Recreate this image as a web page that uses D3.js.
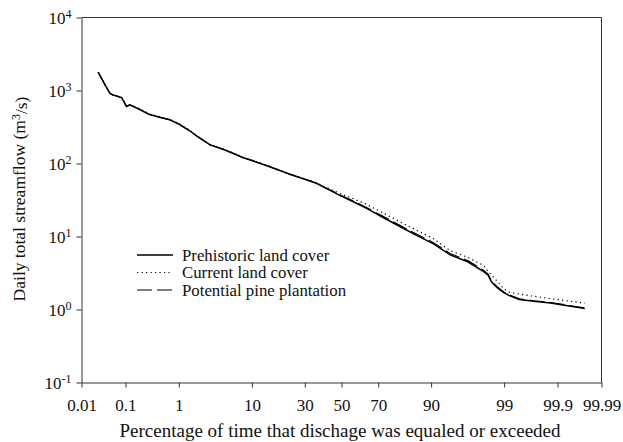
<!DOCTYPE html>
<html>
<head>
<meta charset="utf-8">
<script src="https://cdn.jsdelivr.net/npm/d3@7"></script>
<style>
  body { margin: 0; background: #fff; }
  svg { display: block; }
  svg text { font-family: "Liberation Serif", "Times New Roman", Tinos, "DejaVu Serif", serif; fill: #111; }
</style>
</head>
<body>
<div id="chart"></div>
<script>
// Exceedance percentages shared by all three flow-duration curves
const pct = [0.025, 0.035, 0.046, 0.053, 0.062, 0.072, 0.083, 0.093, 0.105, 0.12, 0.133,
  0.2, 0.3, 0.4, 0.5, 0.7, 1.0, 1.5, 1.9, 2.5, 3.0, 4.5, 6.0, 8.0, 10, 15, 23, 30, 36,
  43, 49, 57, 64, 72, 80, 86, 90.5, 94, 96.5, 97.9, 98.2, 98.4, 98.7, 99.0, 99.2, 99.45,
  99.7, 99.86, 99.975];

// Daily total streamflow (m3/s)
const prehistoric = [1780, 1230, 920, 870, 845, 820, 800, 700, 605, 630, 624,
  545, 468, 443, 423, 397, 347, 281, 239, 202, 180, 157, 138, 120, 110, 91, 71.3, 60.7, 53.6,
  43.6, 36.6, 29.7, 24.3, 18.5, 13.6, 10.3, 8.0, 5.6, 4.47, 3.3, 2.95, 2.39, 1.99, 1.69, 1.54, 1.37,
  1.30, 1.23, 1.03];

const current = [1780, 1230, 930, 880, 850, 825, 805, 710, 615, 640, 630,
  555, 478, 452, 432, 405, 352, 285, 243, 205, 183, 159, 140, 122, 111, 92, 72, 61.5, 54.7,
  45.3, 38.8, 32.7, 27.5, 21.3, 15.8, 12.1, 9.4, 6.4, 5.15, 4.0, 3.33, 2.96, 2.44, 1.90, 1.71, 1.63,
  1.52, 1.41, 1.22];

const pine = [1780, 1230, 920, 870, 845, 820, 800, 700, 605, 630, 624,
  545, 468, 443, 423, 397, 347, 281, 239, 202, 180, 157, 138, 120, 110, 91, 71.3, 60.7, 53.6,
  44.2, 37.3, 30.4, 24.9, 19.2, 14.1, 10.7, 8.3, 5.85, 4.65, 3.45, 3.05, 2.48, 2.05, 1.73, 1.57, 1.40,
  1.32, 1.25, 1.05];

const xTicks = [0.01, 0.1, 1, 10, 30, 50, 70, 90, 99, 99.9, 99.99];
const yTicks = [0.1, 1, 10, 100, 1000, 10000];

const seriesNames = ["Prehistoric land cover", "Current land cover", "Potential pine plantation"];

const FONT = '"Liberation Serif", "Times New Roman", Tinos, "DejaVu Serif", serif';

// inverse normal CDF (Acklam) -> probability axis
function probit(p) {
  const a = [-39.69683028665376, 220.9460984245205, -275.9285104469687, 138.3577518672690, -30.66479806614716, 2.506628277459239];
  const b = [-54.47609879822406, 161.5858368580409, -155.6989798598866, 66.80131188771972, -13.28068155288572];
  const c = [-0.007784894002430293, -0.3223964580411365, -2.400758277161838, -2.549732539343734, 4.374664141464968, 2.938163982698783];
  const d = [0.007784695709041462, 0.3224671290700398, 2.445134137142996, 3.754408661907416];
  const pl = 0.02425;
  let q, r;
  if (p < pl) {
    q = Math.sqrt(-2 * Math.log(p));
    return (((((c[0]*q+c[1])*q+c[2])*q+c[3])*q+c[4])*q+c[5]) / ((((d[0]*q+d[1])*q+d[2])*q+d[3])*q+1);
  }
  if (p > 1 - pl) {
    q = Math.sqrt(-2 * Math.log(1 - p));
    return -(((((c[0]*q+c[1])*q+c[2])*q+c[3])*q+c[4])*q+c[5]) / ((((d[0]*q+d[1])*q+d[2])*q+d[3])*q+1);
  }
  q = p - 0.5; r = q * q;
  return (((((a[0]*r+a[1])*r+a[2])*r+a[3])*r+a[4])*r+a[5])*q / (((((b[0]*r+b[1])*r+b[2])*r+b[3])*r+b[4])*r+1);
}

const W = 623, H = 442;
const mLeft = 81.5, mRight = 601.5, mTop = 17.5, mBottom = 382.5;

const svg = d3.select("#chart").append("svg")
  .attr("width", W).attr("height", H)
  .attr("font-family", FONT);

const x = d3.scaleLinear()
  .domain([probit(0.0001), probit(0.9999)])
  .range([mLeft, mRight]);

const y = d3.scaleLog()
  .domain([0.1, 10000])
  .range([mBottom, mTop]);

const px = p => x(probit(p / 100));

// frame: top and right sides
svg.append("path")
  .attr("d", `M${mLeft},${mTop}H${mRight}V${mBottom}`)
  .attr("fill", "none")
  .attr("stroke", "#333")
  .attr("stroke-width", 1);

// x axis
const xAxis = svg.append("g")
  .attr("transform", `translate(0,${mBottom})`)
  .call(d3.axisBottom(x)
    .tickValues(xTicks.map(p => probit(p / 100)))
    .tickFormat((d, i) => xTicks[i])
    .tickSize(5)
    .tickSizeOuter(0))
  .attr("font-family", FONT)
  .attr("font-size", 17);
xAxis.select(".domain").attr("stroke", "#333");
xAxis.selectAll(".tick line").attr("stroke", "#333");
xAxis.selectAll("text")
  .attr("y", 28).attr("dy", 0)
  .attr("fill", "#111");

// y axis
const yAxis = svg.append("g")
  .attr("transform", `translate(${mLeft},0)`)
  .call(d3.axisLeft(y)
    .tickValues(yTicks)
    .tickFormat("")
    .tickSize(5)
    .tickSizeOuter(0))
  .attr("font-family", FONT)
  .attr("font-size", 17);
yAxis.select(".domain").attr("stroke", "#333");
yAxis.selectAll(".tick line").attr("stroke", "#333");
yAxis.selectAll(".tick text").each(function(d) {
  const t = d3.select(this)
    .attr("x", -10)
    .attr("dy", "0.34em")
    .attr("fill", "#111");
  t.text("10");
  t.append("tspan")
    .attr("dy", "-0.45em")
    .attr("font-size", 12)
    .text(Math.round(Math.log10(d)));
});

// axis titles
svg.append("text")
  .attr("x", 340)
  .attr("y", 437)
  .attr("text-anchor", "middle")
  .attr("font-size", 19)
  .text("Percentage of time that dischage was equaled or exceeded");

const yt = svg.append("text")
  .attr("transform", `translate(25,199) rotate(-90)`)
  .attr("text-anchor", "middle")
  .attr("font-size", 17.5);
yt.append("tspan").text("Daily total streamflow (m");
yt.append("tspan").attr("dy", "-0.45em").attr("font-size", 12).text("3");
yt.append("tspan").attr("dy", "0.45em").text("/s)");

// curves
const line = d3.line()
  .x((d, i) => px(pct[i]))
  .y(d => y(d));

const styles = [
  { data: prehistoric, width: 1.5, dash: null },
  { data: pine, width: 1.1, dash: "15,5" },
  { data: current, width: 1.2, dash: "1.2,3.3" }
];

svg.append("g").selectAll("path")
  .data(styles)
  .join("path")
  .attr("d", d => line(d.data))
  .attr("fill", "none")
  .attr("stroke", "#000")
  .attr("stroke-width", d => d.width)
  .attr("stroke-dasharray", d => d.dash);

// legend
const legendStyles = [styles[0], styles[2], styles[1]];
const legend = svg.append("g");
const rows = legend.selectAll("g")
  .data(seriesNames)
  .join("g")
  .attr("transform", (d, i) => `translate(137,${255 + i * 17.5})`);
rows.append("line")
  .attr("x1", 0).attr("x2", 36)
  .attr("stroke", "#000")
  .attr("stroke-width", (d, i) => legendStyles[i].width)
  .attr("stroke-dasharray", (d, i) => legendStyles[i].dash);
rows.append("text")
  .attr("x", 45)
  .attr("dy", "0.33em")
  .attr("font-size", 16.8)
  .text(d => d);
</script>
</body>
</html>
